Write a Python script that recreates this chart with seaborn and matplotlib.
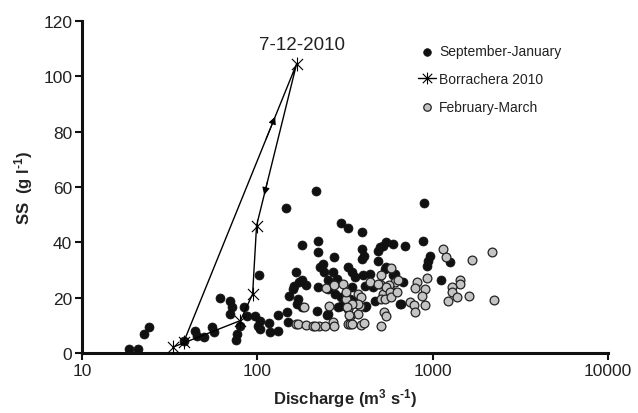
import numpy as np
import pandas as pd
import matplotlib
matplotlib.use("Agg")
import matplotlib.pyplot as plt
import seaborn as sns
from matplotlib.path import Path
from matplotlib.ticker import FixedLocator, NullLocator, FixedFormatter

# ---------------- data ----------------
sep_jan_q = [18.5, 21.0, 22.5, 24.0, 38, 44.3, 45.2, 49.5, 55, 56.3, 61.5, 70, 71.5, 70, 76.5, 76,
             79.6, 84.2, 86.9, 96.8, 101, 103.5, 102.5, 104, 116.4, 118, 130.6, 131.5, 147, 149,
             145.6, 152, 160, 166, 162, 167.5, 173, 180, 179, 190, 170, 179,
             215, 300, 330, 221, 221, 275, 330, 228, 241, 237, 271, 254, 283, 221, 254, 277, 302,
             218, 254, 250, 302, 288, 336,
             393, 393, 405, 393, 500, 545, 593, 520, 487, 487, 360, 345, 401, 438, 410, 345, 457,
             545, 535, 610, 593, 360, 419, 410, 467, 650,
             895, 693, 883, 963, 945, 925, 1120, 677, 660, 1260]
sep_jan_ss = [1.4, 1.4, 6.9, 9.3, 4.5, 8.1, 6.3, 5.7, 9.3, 7.5, 19.8, 18.9, 16.5, 14.1, 6.9, 4.6,
              9.9, 16.7, 13.5, 13.5, 9.9, 11.7, 28.3, 8.7, 10.9, 7.7, 13.7, 8.1, 14.7, 11.1,
              52.4, 20.7, 23.1, 29.2, 24.3, 17.7, 25.6, 39.0, 26.2, 24.6, 19.5, 16.5,
              58.7, 47.0, 45.1, 40.4, 36.6, 34.6, 31.0, 31.0, 29.4, 32.2, 29.2, 26.2, 26.8, 23.8,
              23.1, 21.3, 20.1, 15.3, 14.1, 13.7, 17.1, 16.7, 19.5,
              43.9, 37.6, 35.2, 34.0, 38.2, 40.0, 39.4, 38.8, 37.0, 33.4, 27.4, 29.2, 28.0, 28.6,
              24.3, 23.8, 23.8, 31.0, 30.4, 28.6, 28.0, 18.9, 17.1, 16.5, 18.9, 17.7,
              54.3, 38.8, 40.6, 35.0, 33.4, 31.4, 26.2, 25.8, 17.7, 33.0]

feb_mar_q = [166, 171, 190, 208, 224, 243, 271, 275, 330, 213,
             185, 248, 275, 307, 257, 322, 330,
             322, 375, 384, 375, 336, 336, 389, 405, 438, 500, 582, 520, 582, 610, 510, 531,
             545, 510, 510, 565, 545, 570, 535, 580, 630, 487, 390, 375, 345, 326, 345, 335,
             1150, 1185, 638, 810, 790, 900, 925, 865, 740, 780, 790, 910,
             1667, 2170, 1425, 1425, 1290, 1290, 1380, 1610, 1230, 2230]
feb_mar_ss = [10.5, 10.5, 10.1, 9.9, 9.7, 9.9, 11.3, 9.9, 10.5, 9.9,
              16.5, 23.4, 24.6, 25.0, 17.1, 19.5, 15.9,
              21.9, 21.3, 17.1, 14.1, 13.5, 10.5, 10.1, 10.9, 25.6, 25.0, 30.6, 21.3, 22.5, 25.6,
              19.5, 14.7, 13.5, 9.9, 28.0, 24.6, 23.8, 22.0, 19.5, 20.1, 22.0, 25.0, 20.1, 17.7,
              17.7, 16.5, 10.5, 13.7,
              37.6, 34.6, 26.2, 25.6, 23.4, 23.1, 27.0, 20.7, 18.3, 17.4, 14.7, 17.4,
              33.6, 36.4, 26.4, 25.0, 23.8, 21.9, 20.4, 20.7, 18.9, 19.3]

borr_q = [38, 167.5, 99, 94, 80, 33]
borr_ss = [3.9, 104.5, 46, 21.3, 11.7, 2.1]

x_ticks = [10, 100, 1000, 10000]
x_ticklabels = ["10", "100", "1000", "10000"]
y_ticks = [0, 20, 40, 60, 80, 100, 120]

# ---------------- style ----------------
sns.set_theme(style="white")
plt.rcParams["font.family"] = ["Liberation Sans", "DejaVu Sans"]
plt.rcParams["mathtext.fontset"] = "custom"
plt.rcParams["mathtext.rm"] = "Liberation Sans:bold"
plt.rcParams["mathtext.default"] = "rm"

# Excel-like star marker: an X with a vertical bar
star = Path([(-1, -1), (1, 1), (-1, 1), (1, -1), (0, -1.25), (0, 1.25)],
            [Path.MOVETO, Path.LINETO, Path.MOVETO, Path.LINETO, Path.MOVETO, Path.LINETO])

fig = plt.figure(figsize=(6.38, 4.14), dpi=100)
ax = fig.add_axes([0.1285, 0.145, 0.8245, 0.802])

df_sj = pd.DataFrame({"q": sep_jan_q, "ss": sep_jan_ss})
df_fm = pd.DataFrame({"q": feb_mar_q, "ss": feb_mar_ss})
df_b = pd.DataFrame({"q": borr_q, "ss": borr_ss})

sns.scatterplot(data=df_sj, x="q", y="ss", ax=ax, color="#111111", s=42,
                edgecolor="#111111", linewidth=0.5, label="September-January", zorder=2)
sns.scatterplot(data=df_fm, x="q", y="ss", ax=ax, color="#c4c4c4", s=40,
                edgecolor="#222222", linewidth=0.9, label="February-March", zorder=3)
sns.lineplot(data=df_b, x="q", y="ss", ax=ax, sort=False, estimator=None, color="black",
             lw=1.0, marker=star, markersize=10, markeredgewidth=0.8,
             markeredgecolor="black", label="Borrachera 2010", zorder=4)

ax.set_xscale("log")
ax.set_xlim(10, 10000)
ax.set_ylim(0, 120)

# direction arrows on the two legs adjacent to the peak
def arrow_on_segment(i0, i1, frac):
    lx0, lx1 = np.log10(borr_q[i0]), np.log10(borr_q[i1])
    y0, y1 = borr_ss[i0], borr_ss[i1]
    f0 = frac - 0.08
    xa = 10 ** (lx0 + (lx1 - lx0) * f0)
    ya = y0 + (y1 - y0) * f0
    xb = 10 ** (lx0 + (lx1 - lx0) * frac)
    yb = y0 + (y1 - y0) * frac
    ax.annotate("", xy=(xb, yb), xytext=(xa, ya),
                arrowprops=dict(arrowstyle="-|>", color="black", lw=0.8,
                                mutation_scale=11, shrinkA=0, shrinkB=0), zorder=5)

arrow_on_segment(0, 1, 0.81)
arrow_on_segment(1, 2, 0.81)

ax.annotate("7-12-2010", xy=(borr_q[1], borr_ss[1]), xytext=(4, 8),
            textcoords="offset points", ha="center", va="bottom", fontsize=13.5, color="#222222")

ax.xaxis.set_major_locator(FixedLocator(x_ticks))
ax.xaxis.set_major_formatter(FixedFormatter(x_ticklabels))
ax.xaxis.set_minor_locator(NullLocator())
ax.set_yticks(y_ticks)

for side in ["top", "right"]:
    ax.spines[side].set_visible(False)
for side in ["left", "bottom"]:
    ax.spines[side].set_linewidth(2.2)
    ax.spines[side].set_color("#111111")

ax.tick_params(axis="both", which="major", direction="out", length=5, width=1.5,
               colors="#111111", labelsize=12.5, labelcolor="#222222", pad=2,
               bottom=True, left=True)

ax.set_xlabel(r"Discharge (m$^{3}$ s$^{\text{-1}}$)", fontsize=12, fontweight="bold",
              color="#222222", labelpad=6)
ax.set_ylabel(r"SS  (g l$^{\text{-1}}$)", fontsize=12, fontweight="bold", color="#222222",
              labelpad=6)

handles, labels = ax.get_legend_handles_labels()
order = [labels.index("September-January"), labels.index("Borrachera 2010"),
         labels.index("February-March")]
leg = ax.legend([handles[i] for i in order], [labels[i] for i in order],
                loc="upper left", bbox_to_anchor=(0.638, 0.93), frameon=False,
                fontsize=10, handlelength=1.3, handletextpad=0.25, labelspacing=1.0,
                borderpad=0, borderaxespad=0, markerscale=0.85)
for t in leg.get_texts():
    t.set_color("#222222")

fig.savefig("out.png", dpi=100)
